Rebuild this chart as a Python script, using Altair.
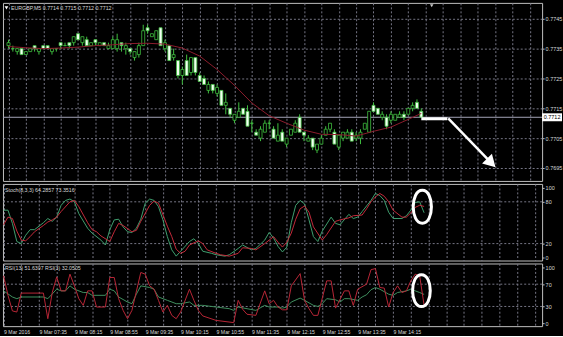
import json
import altair as alt
import pandas as pd

FONT = "Liberation Sans"

TITLE = "EURGBP,M5  0.7714 0.7715 0.7712 0.7712"
STOCH_LABEL = "Stoch(8,3,3) 64.2857 73.3516"
RSI_LABEL = "RSI(13) 51.6397  RSI(3) 32.0505"
TIME_LABELS = ["9 Mar 2016", "9 Mar 07:35", "9 Mar 08:15", "9 Mar 08:55", "9 Mar 09:35",
               "9 Mar 10:15", "9 Mar 10:55", "9 Mar 11:35", "9 Mar 12:15", "9 Mar 12:55",
               "9 Mar 13:35", "9 Mar 14:15"]

OPEN = [0.7736, 0.7735, 0.7734, 0.7735, 0.7733, 0.7734, 0.7736, 0.7734, 0.7736, 0.7736,
        0.7734, 0.7735, 0.7737, 0.7736, 0.7737, 0.7737, 0.7740, 0.7737, 0.7738, 0.7736,
        0.7738, 0.7736, 0.7737, 0.7735, 0.7735, 0.7735, 0.7737, 0.7735, 0.7735, 0.7732,
        0.7733, 0.7736, 0.7742, 0.7739, 0.7738, 0.7742, 0.7735, 0.7736, 0.7732, 0.7731,
        0.7726, 0.7731, 0.7727, 0.7732, 0.7726, 0.7725, 0.7721, 0.7723, 0.7720, 0.7721,
        0.7716, 0.7715, 0.7711, 0.7712, 0.7715, 0.7714, 0.7710, 0.7707, 0.7705, 0.7707,
        0.7710, 0.7708, 0.7704, 0.7707, 0.7703, 0.7706, 0.7707, 0.7712, 0.7707, 0.7704,
        0.7705, 0.7701, 0.7703, 0.7706, 0.7708, 0.7707, 0.7702, 0.7705, 0.7705, 0.7707,
        0.7705, 0.7705, 0.7708, 0.7707, 0.7716, 0.7715, 0.7712, 0.7712, 0.7711, 0.7711,
        0.7712, 0.7713, 0.7713, 0.7715, 0.7717, 0.7714]
HIGH = [0.7738, 0.7736, 0.7735, 0.7735, 0.7734, 0.7735, 0.7736, 0.7735, 0.7736, 0.7736,
        0.7735, 0.7735, 0.7737, 0.7737, 0.7737, 0.7739, 0.7740, 0.7739, 0.7739, 0.7737,
        0.7738, 0.7737, 0.7737, 0.7737, 0.7739, 0.7740, 0.7737, 0.7737, 0.7735, 0.7734,
        0.7737, 0.7743, 0.7743, 0.7740, 0.7741, 0.7742, 0.7738, 0.7736, 0.7735, 0.7731,
        0.7729, 0.7733, 0.7732, 0.7732, 0.7727, 0.7726, 0.7724, 0.7723, 0.7723, 0.7721,
        0.7720, 0.7715, 0.7713, 0.7717, 0.7715, 0.7716, 0.7711, 0.7708, 0.7709, 0.7711,
        0.7711, 0.7709, 0.7710, 0.7708, 0.7705, 0.7708, 0.7711, 0.7713, 0.7707, 0.7706,
        0.7705, 0.7703, 0.7706, 0.7709, 0.7710, 0.7708, 0.7706, 0.7707, 0.7708, 0.7708,
        0.7707, 0.7708, 0.7710, 0.7714, 0.7717, 0.7715, 0.7714, 0.7713, 0.7714, 0.7713,
        0.7714, 0.7714, 0.7715, 0.7717, 0.7718, 0.7715]
LOW = [0.7735, 0.7734, 0.7733, 0.7733, 0.7733, 0.7734, 0.7734, 0.7733, 0.7735, 0.7735,
       0.7733, 0.7734, 0.7735, 0.7736, 0.7735, 0.7736, 0.7738, 0.7736, 0.7736, 0.7736,
       0.7736, 0.7736, 0.7736, 0.7735, 0.7735, 0.7734, 0.7734, 0.7733, 0.7733, 0.7731,
       0.7732, 0.7736, 0.7740, 0.7739, 0.7738, 0.7736, 0.7734, 0.7731, 0.7731, 0.7725,
       0.7723, 0.7726, 0.7726, 0.7726, 0.7724, 0.7723, 0.7720, 0.7720, 0.7719, 0.7716,
       0.7713, 0.7712, 0.7710, 0.7712, 0.7713, 0.7709, 0.7707, 0.7706, 0.7704, 0.7707,
       0.7708, 0.7705, 0.7704, 0.7704, 0.7702, 0.7706, 0.7707, 0.7707, 0.7704, 0.7704,
       0.7701, 0.7700, 0.7703, 0.7706, 0.7707, 0.7703, 0.7701, 0.7704, 0.7705, 0.7704,
       0.7704, 0.7703, 0.7708, 0.7707, 0.7714, 0.7713, 0.7711, 0.7708, 0.7710, 0.7711,
       0.7712, 0.7711, 0.7713, 0.7714, 0.7715, 0.7712]
CLOSE = [0.7737, 0.7735, 0.7735, 0.7733, 0.7734, 0.7735, 0.7735, 0.7735, 0.7735, 0.7735,
         0.7735, 0.7735, 0.7736, 0.7736, 0.7736, 0.7739, 0.7738, 0.7739, 0.7736, 0.7737,
         0.7737, 0.7737, 0.7736, 0.7736, 0.7738, 0.7738, 0.7736, 0.7736, 0.7734, 0.7734,
         0.7736, 0.7741, 0.7741, 0.7740, 0.7741, 0.7736, 0.7737, 0.7731, 0.7733, 0.7726,
         0.7728, 0.7726, 0.7732, 0.7727, 0.7724, 0.7723, 0.7723, 0.7721, 0.7722, 0.7716,
         0.7717, 0.7713, 0.7713, 0.7714, 0.7713, 0.7709, 0.7710, 0.7706, 0.7708, 0.7710,
         0.7710, 0.7705, 0.7706, 0.7704, 0.7705, 0.7708, 0.7710, 0.7707, 0.7706, 0.7705,
         0.7702, 0.7703, 0.7705, 0.7708, 0.7710, 0.7703, 0.7706, 0.7707, 0.7707, 0.7704,
         0.7706, 0.7707, 0.7710, 0.7714, 0.7714, 0.7713, 0.7713, 0.7709, 0.7713, 0.7713,
         0.7713, 0.7712, 0.7715, 0.7716, 0.7715, 0.7712]

MA_I = [0, 4, 8, 12, 16, 20, 24, 28, 32, 36, 40, 44, 48, 52, 56, 60, 64, 68, 72, 76, 80, 84, 88, 92, 95]
MA_V = [0.77357, 0.77353, 0.77350, 0.77352, 0.77355, 0.77360, 0.77363, 0.77367, 0.77368, 0.77365,
        0.77352, 0.77325, 0.77280, 0.77227, 0.77168, 0.77125, 0.77100, 0.77077, 0.77063, 0.77062,
        0.77057, 0.77073, 0.77087, 0.77113, 0.77133]

STOCH_MAIN_I = [0, 1, 2, 3, 4, 5, 6, 7, 9, 10, 11, 12, 13, 14, 15, 16, 17, 19, 20, 22, 23, 24, 25, 26,
                27, 28, 29, 30, 31, 32, 33, 34, 35, 36, 37, 38, 39, 40, 42, 43, 44, 45, 47, 48, 50, 51,
                53, 54, 56, 57, 59, 60, 61, 62, 63, 64, 65, 66, 67, 68, 69, 70, 71, 72, 74, 75, 76, 78,
                79, 80, 81, 83, 84, 85, 86, 87, 88, 90, 91, 92, 93, 94, 95]
STOCH_MAIN_V = [68, 68, 49, 23, 20, 32, 40, 40, 50, 56, 52, 58, 75, 82, 84, 80, 63, 42, 35, 25, 18, 40,
                54, 55, 44, 37, 36, 42, 55, 78, 84, 82, 73, 54, 30, 11, 2, 9, 23, 27, 20, 9, 6, 4, 2,
                4, 13, 18, 11, 13, 25, 36, 28, 16, 8, 15, 50, 75, 82, 77, 54, 30, 23, 38, 58, 49, 47,
                62, 56, 58, 66, 82, 92, 89, 82, 65, 56, 56, 60, 68, 79, 80, 64.29]
STOCH_SIG_I = [0, 1, 2, 3, 4, 5, 6, 7, 9, 10, 11, 12, 13, 15, 16, 17, 19, 20, 21, 22, 24, 25, 26, 27,
               29, 30, 31, 33, 34, 35, 37, 38, 39, 40, 41, 42, 44, 45, 46, 48, 49, 51, 53, 54, 56, 57,
               59, 61, 62, 63, 64, 65, 66, 67, 68, 69, 70, 72, 73, 75, 76, 78, 79, 81, 82, 83, 84, 85,
               86, 87, 88, 90, 91, 92, 93, 94, 95]
STOCH_SIG_V = [47, 58, 56, 38, 25, 24, 30, 37, 46, 51, 54, 58, 66, 80, 82, 73, 50, 40, 37, 31, 23, 37,
               49, 46, 37, 39, 52, 75, 81, 78, 45, 30, 12, 6, 9, 18, 24, 20, 11, 6, 4, 2, 6, 14, 13,
               11, 20, 30, 22, 15, 22, 35, 55, 70, 74, 65, 44, 25, 33, 52, 54, 57, 60, 61, 70, 80, 87,
               92, 88, 80, 68, 58, 58, 64, 72, 75, 73.35]
STOCH_LEVELS = [20, 80]

RSI3_I = [0, 1, 2, 3, 4, 9, 10, 11, 12, 13, 14, 15, 16, 17, 18, 19, 20, 21, 23, 24, 25, 26, 27, 28, 29,
          31, 32, 33, 34, 35, 36, 37, 38, 39, 40, 42, 43, 44, 45, 48, 52, 53, 54, 55, 57, 59, 60, 61,
          62, 63, 64, 65, 67, 68, 69, 70, 71, 73, 74, 75, 77, 78, 79, 80, 82, 83, 84, 85, 86, 87, 88,
          89, 90, 91, 92, 93, 94, 95]
RSI3_V = [85, 50, 22, 20, 54, 54, 8, 55, 83, 58, 58, 88, 67, 44, 32, 58, 58, 29, 29, 82, 82, 44, 23, 8,
          23, 91, 88, 67, 61, 41, 20, 32, 14, 8, 20, 61, 41, 23, 13, 5, 1, 41, 25, 16, 14, 58, 35, 41,
          29, 24, 24, 67, 89, 41, 26, 14, 14, 76, 76, 27, 58, 58, 32, 61, 70, 96, 98, 64, 63, 29, 55,
          67, 55, 58, 76, 88, 85, 32.05]
RSI13_I = [0, 2, 3, 4, 9, 10, 12, 13, 14, 15, 16, 18, 19, 20, 23, 24, 25, 26, 28, 29, 30, 31, 33, 34, 35,
           37, 39, 40, 42, 43, 45, 48, 51, 52, 53, 55, 57, 59, 60, 62, 63, 64, 65, 67, 68, 70, 71, 72,
           73, 75, 76, 77, 78, 80, 81, 82, 83, 84, 85, 87, 88, 89, 91, 92, 93, 94, 95]
RSI13_V = [58, 47, 44, 47, 47, 44, 61, 58, 58, 67, 61, 55, 55, 50, 50, 61, 58, 47, 38, 35, 52, 67, 64, 61,
           47, 41, 35, 35, 38, 32, 32, 29, 26, 23, 29, 26, 23, 32, 29, 29, 27, 29, 38, 45, 41, 32, 30,
           35, 44, 42, 38, 44, 44, 41, 47, 51, 60, 64, 61, 52, 50, 55, 58, 61, 58, 55, 51.64]
RSI_LEVELS = [30, 70]

PRICE_TICKS = [0.7695, 0.7705, 0.7715, 0.7725, 0.7735, 0.7745]
BID = 0.7712

# hand-drawn annotations (bar index / value units)
MARK_LINE_I = [95, 101]
MARK_LINE_P = [0.77115, 0.77115]
ARROW_I = [101.2, 111.1]
ARROW_P = [0.77116, 0.76967]
STOCH_RING = (94.6, 72.9)
RSI_RING = (94.4, 58.4)

# scales
X_DOMAIN = [-0.13, 121.66]
PRICE_DOMAIN = [0.769067, 0.775033]
STOCH_DOMAIN = [-4.29, 105.71]
RSI_DOMAIN = [-5.36, 107.14]
GRID_I = list(range(0, 121, 4))

CANDLE = "#3fbf3f"
BEAR_FILL = "#f2fff2"
BULL_FILL = "#000000"
MA_COLOR = "#8c1c2c"
ST_GREEN = "#3f9f6f"
ST_RED = "#c42a3a"
RSI_RED = "#b82636"
RSI_GREEN = "#3f8f5f"
GRIDC = "#777786"
BORDER = "#c0c0c0"
TXT = "#d8d8d8"
ELLIPSE = "M0,-1C0.74,-1 0.74,1 0,1C-0.74,1 -0.74,-1 0,-1Z"
BOX = "M-1,-0.4L1,-0.4L1,0.4L-1,0.4Z"

label_expr = ("(datum.value % 8 === 0 && datum.value / 8 < " + str(len(TIME_LABELS)) + ") ? "
              + json.dumps(TIME_LABELS) + "[datum.value / 8] : ''")

XAXIS_GRID = alt.Axis(values=GRID_I, grid=True, labels=False, ticks=False, domain=False, title=None,
                      minExtent=0, maxExtent=0, offset=0)
XAXIS_TIME = alt.Axis(values=GRID_I, grid=True, labels=True, labelExpr=label_expr, ticks=False,
                      domain=False, title=None, labelAlign="left", labelBaseline="top", labelPadding=3,
                      labelFontSize=5.2, labelFlush=False, labelOverlap=False, labelAngle=0)


def yaxis(values, fmt, grid):
    return alt.Axis(orient="right", values=values, format=fmt, grid=grid, title=None, domain=False,
                    tickSize=2, labelPadding=1, labelFontSize=5.5, labelOverlap=False)


PRICE_AXIS = yaxis(PRICE_TICKS, ".4f", True)
STOCH_AXIS = yaxis([0, 20, 80, 100], "d", False)
RSI_AXIS = yaxis([0, 30, 70, 100], "d", False)


def xq(field="i", axis=XAXIS_GRID):
    return alt.X(f"{field}:Q", scale=alt.Scale(domain=X_DOMAIN, nice=False, zero=False), axis=axis)


def yq(field, domain, axis):
    return alt.Y(f"{field}:Q", scale=alt.Scale(domain=domain, nice=False, zero=False), axis=axis)


def text_layer(txt, x, y, size=5.3, color=TXT):
    return alt.Chart(pd.DataFrame({"t": [txt]})).mark_text(
        align="left", baseline="middle", font=FONT, fontSize=size, color=color
    ).encode(x=alt.value(x), y=alt.value(y), text="t:N")


# ---------------- main price panel ----------------
candles = pd.DataFrame({"i": list(range(len(OPEN))), "o": OPEN, "h": HIGH, "l": LOW, "c": CLOSE})
ma_df = pd.DataFrame({"i": MA_I, "v": MA_V})

bid = alt.Chart(pd.DataFrame({"p": [BID]})).mark_rule(color="#a4a4b8", strokeWidth=1).encode(
    y=yq("p", PRICE_DOMAIN, PRICE_AXIS))
wick = alt.Chart(candles).mark_rule(color=CANDLE, strokeWidth=1).encode(
    x=xq(), y=yq("l", PRICE_DOMAIN, PRICE_AXIS), y2="h:Q")
body = alt.Chart(candles).mark_bar(size=3, stroke=CANDLE, strokeWidth=0.8).encode(
    x=xq(), y=yq("o", PRICE_DOMAIN, PRICE_AXIS), y2="c:Q",
    fill=alt.condition(alt.datum.c > alt.datum.o, alt.value(BULL_FILL), alt.value(BEAR_FILL)))
ma = alt.Chart(ma_df).mark_line(color=MA_COLOR, strokeWidth=1).encode(
    x=xq(), y=yq("v", PRICE_DOMAIN, PRICE_AXIS))
ann_h = alt.Chart(pd.DataFrame({"i": MARK_LINE_I, "p": MARK_LINE_P})).mark_line(
    color="white", strokeWidth=3).encode(x=xq(), y=yq("p", PRICE_DOMAIN, PRICE_AXIS))
arrow = alt.Chart(pd.DataFrame({"i": ARROW_I, "p": ARROW_P})).mark_line(
    color="white", strokeWidth=2.5).encode(x=xq(), y=yq("p", PRICE_DOMAIN, PRICE_AXIS))
head = alt.Chart(pd.DataFrame({"i": [ARROW_I[-1]], "p": [ARROW_P[-1]]})).mark_point(
    shape="triangle-up", angle=135, size=196, filled=True, color="white", opacity=1).encode(
    x=xq(), y=yq("p", PRICE_DOMAIN, PRICE_AXIS))
title = text_layer(TITLE, 8, 5)
icon = alt.Chart(pd.DataFrame({"k": [0]})).mark_point(
    shape="triangle-down", filled=True, size=14, color="white", opacity=1).encode(
    x=alt.value(3.5), y=alt.value(5))
shift = alt.Chart(pd.DataFrame({"k": [0]})).mark_point(
    shape="triangle-down", filled=True, size=12, color="#c8c8c8", opacity=1).encode(
    x=alt.value(431), y=alt.value(3))
pbox = alt.Chart(pd.DataFrame({"p": [BID]})).mark_point(
    shape=BOX, size=400, filled=True, color="white", opacity=1).encode(
    x=alt.value(552), y=yq("p", PRICE_DOMAIN, PRICE_AXIS))
ptxt = alt.Chart(pd.DataFrame({"p": [BID], "t": [f"{BID:.4f}"]})).mark_text(
    align="center", baseline="middle", font=FONT, fontSize=5.5, color="#000000").encode(
    x=alt.value(552), y=yq("p", PRICE_DOMAIN, PRICE_AXIS), text="t:N")

main = alt.layer(bid, wick, body, ma, ann_h, arrow, head, title, icon, shift, pbox, ptxt).properties(
    width=542, height=179)

# ---------------- stochastic panel ----------------
st_lv = alt.Chart(pd.DataFrame({"v": STOCH_LEVELS})).mark_rule(
    color=GRIDC, strokeDash=[2, 2], strokeWidth=1).encode(y=yq("v", STOCH_DOMAIN, STOCH_AXIS))
st_main = alt.Chart(pd.DataFrame({"i": STOCH_MAIN_I, "v": STOCH_MAIN_V})).mark_line(
    color=ST_GREEN, strokeWidth=1).encode(x=xq(), y=yq("v", STOCH_DOMAIN, STOCH_AXIS))
st_sig = alt.Chart(pd.DataFrame({"i": STOCH_SIG_I, "v": STOCH_SIG_V})).mark_line(
    color=ST_RED, strokeWidth=1).encode(x=xq(), y=yq("v", STOCH_DOMAIN, STOCH_AXIS))
st_txt = text_layer(STOCH_LABEL, 2, 6)
st_ring = alt.Chart(pd.DataFrame({"i": [STOCH_RING[0]], "v": [STOCH_RING[1]]})).mark_point(
    shape=ELLIPSE, size=1089, filled=False, color="white", strokeWidth=3, opacity=1).encode(
    x=xq(), y=yq("v", STOCH_DOMAIN, STOCH_AXIS))
stoch = alt.layer(st_lv, st_main, st_sig, st_txt, st_ring).properties(width=542, height=77)

# ---------------- RSI panel ----------------
r_lv = alt.Chart(pd.DataFrame({"v": RSI_LEVELS})).mark_rule(
    color=GRIDC, strokeDash=[2, 2], strokeWidth=1).encode(y=yq("v", RSI_DOMAIN, RSI_AXIS))
r13 = alt.Chart(pd.DataFrame({"i": RSI13_I, "v": RSI13_V})).mark_line(
    color=RSI_GREEN, strokeWidth=1).encode(x=xq(axis=XAXIS_TIME), y=yq("v", RSI_DOMAIN, RSI_AXIS))
r3 = alt.Chart(pd.DataFrame({"i": RSI3_I, "v": RSI3_V})).mark_line(
    color=RSI_RED, strokeWidth=1).encode(x=xq(axis=XAXIS_TIME), y=yq("v", RSI_DOMAIN, RSI_AXIS))
r_txt = text_layer(RSI_LABEL, 2, 5)
r_ring = alt.Chart(pd.DataFrame({"i": [RSI_RING[0]], "v": [RSI_RING[1]]})).mark_point(
    shape=ELLIPSE, size=1024, filled=False, color="white", strokeWidth=3, opacity=1).encode(
    x=xq(axis=XAXIS_TIME), y=yq("v", RSI_DOMAIN, RSI_AXIS))
rsi = alt.layer(r_lv, r13, r3, r_txt, r_ring).properties(width=542, height=63)

chart = alt.vconcat(main, stoch, rsi, spacing=1).properties(
    background="#000000",
    padding={"left": 1, "top": 1, "right": 0, "bottom": 0},
).configure_view(stroke=BORDER, strokeWidth=1).configure_axis(
    labelFont=FONT, labelColor=TXT, gridColor=GRIDC, gridDash=[2, 2], gridWidth=1, gridOpacity=1,
    tickColor=BORDER,
)

chart.save("out.html", embed_options={"renderer": "svg", "actions": False})
